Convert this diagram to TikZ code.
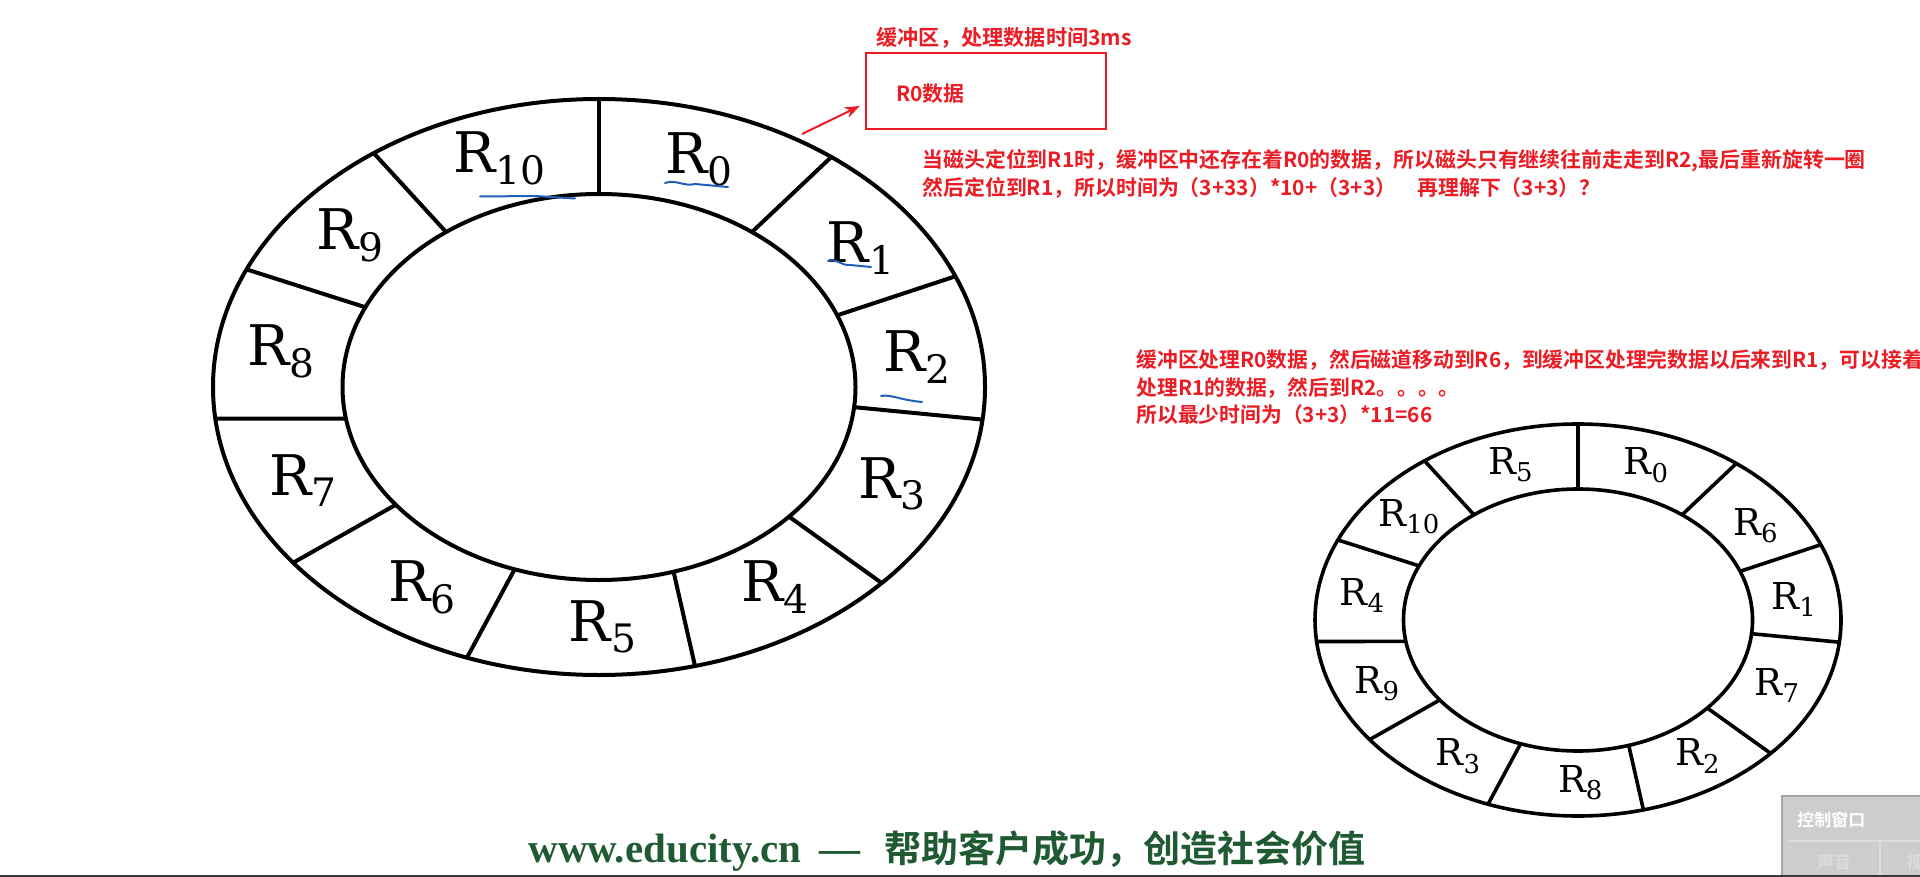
\documentclass[tikz,border=0pt]{standalone}
\usepackage{fontspec}
\setmainfont{DejaVu Serif}
\newfontfamily\cjkb{Noto Sans CJK SC Bold}
\newfontfamily\webfont{Liberation Serif}
\usetikzlibrary{arrows.meta}
\definecolor{noteRed}{HTML}{EC1C24}
\definecolor{penBlue}{HTML}{2060B8}
\definecolor{footGreen}{HTML}{1F5A33}
\definecolor{panelGray}{HTML}{CDCDCD}
\definecolor{panelEdge}{HTML}{A6A6A6}
\definecolor{panelLine}{HTML}{DCDCDC}
% outer/inner angle of each cut
\newcommand\sectorcuts{90/90,53/53.4,22.6/21.8,-6.5/-6,-42.9/-42.2,-75.6/-73.1,-110/-109.2,-142.4/-142.4,-173.7/-170.6,155.9/155.6,125.7/126.6}
\tikzset{
  bigring/.style={line width=2pt},
  smallring/.style={line width=1.8pt},
  bigR/.style={font=\fontsize{28}{28}\selectfont,inner sep=0pt},
  smallR/.style={font=\fontsize{18.5}{18.5}\selectfont,inner sep=0pt},
  note/.style={text=noteRed,font=\cjkb\fontsize{10.45}{14}\selectfont,inner sep=0pt,align=left},
  pen/.style={penBlue,line width=1pt,line cap=round},
}

\begin{document}
\begin{tikzpicture}[x=0.5pt,y=-0.5pt,>=Stealth]
\useasboundingbox (0,0) rectangle (1920,877);
\fill[white] (0,0) rectangle (1920,877);

% big track ring
\begin{scope}[shift={(599,387)},yscale=-1]
\draw[bigring] (0,0) ellipse [x radius=386,y radius=288];
\draw[bigring] (0,0) ellipse [x radius=256.5,y radius=193];
\foreach \ao/\ai in \sectorcuts
  \draw[bigring] (\ao:386 and 288) -- (\ai:256.5 and 193);
\foreach \a/\k in {71.7/0,35.3/1,7.2/2,-23.8/3,-56.6/4,-89.3/5,-123.3/6,-157/7,171.4/8,140.7/9,107.9/10}
  \node[bigR] (big\k) at (\a:321 and 240) {R\textsubscript{\k}};
\end{scope}

% small track ring, optimised order
\begin{scope}[shift={(1578,620)},yscale=-1]
\draw[smallring] (0,0) ellipse [x radius=263,y radius=196];
\draw[smallring] (0,0) ellipse [x radius=174.5,y radius=131];
\foreach \ao/\ai in \sectorcuts
  \draw[smallring] (\ao:263 and 196) -- (\ai:174.5 and 131);
\foreach \a/\k in {71.7/0,35.3/6,7.2/1,-23.8/7,-56.6/2,-89.3/8,-123.3/3,-157/9,171.4/4,140.7/10,107.9/5}
  \node[smallR] (small\k) at (\a:218 and 163) {R\textsubscript{\k}};
\end{scope}

% pen marks
\draw[pen] (480,196.5) -- (535,196) -- (575,198.5);
\draw[pen] (665,183) .. controls (676,179) and (684,187) .. (695,184) -- (728,187);
\draw[pen] (828,261) .. controls (836,258) and (842,266) .. (850,265) -- (871,267);
\draw[pen] (881,396) .. controls (890,394) and (900,400) .. (922,402);

% buffer
\node[note,anchor=west,font=\cjkb\fontsize{10.6}{14}\selectfont] (bufTitle) at (876,37.5) {缓冲区，处理数据时间3ms};
\node[draw=noteRed,line width=1.25pt,minimum width=120pt,minimum height=38pt] (bufBox) at (986,91) {};
\node[note,anchor=west] (bufData) at (896,94) {R0数据};
\coordinate (arrowTail) at (802,134);
\draw[->,noteRed,line width=1pt] (arrowTail) -- ([shift={(-2.5pt,-7.5pt)}]bufBox.west);

% notes
\node[note,anchor=north west] (whyNote) at (922,149.5)
 {当磁头定位到R1时，缓冲区中还存在着R0的数据，所以磁头只有继续往前走走到R2,最后重新旋转一圈\\
  然后定位到R1，所以时间为（3+33）*10+（3+3）\hspace{1em}再理解下（3+3）？};
\node[note,anchor=north west,font=\cjkb\fontsize{10.4}{13.75}\selectfont] (minNote) at (1136,349.5)
 {缓冲区处理R0数据，然后磁道移动到R6，到缓冲区处理完数据以后来到R1，可以接着\\
  处理R1的数据，然后到R2。。。。\\
  所以最少时间为（3+3）*11=66};

% footer
\node[anchor=west,inner sep=0pt,text=footGreen] (footer) at (528,851)
 {{\webfont\bfseries\fontsize{20.5}{20}\selectfont www.educity.cn\hspace{9pt}—\hspace{12pt}}{\cjkb\fontsize{18.5}{20}\selectfont 帮助客户成功，创造社会价值}};
\fill[black!78] (0,874.5) rectangle (1920,877);

% control window
\fill[panelGray] (1782,796) rectangle (1920,874.5);
\draw[panelEdge,line width=1pt] (1782,874.5) |- (1920,796);
\draw[panelLine,line width=1pt] (1788,841) -- (1920,841);
\draw[panelLine,line width=1pt] (1880,841) -- (1880,874.5);
\node[anchor=west,inner sep=0pt,text=white,font=\cjkb\fontsize{8.5}{10}\selectfont] (panelTitle) at (1797,820) {控制窗口};
\node[inner sep=0pt,text=panelLine,font=\cjkb\fontsize{8.5}{10}\selectfont] (panelSound) at (1834,862) {声音};
\node[anchor=west,inner sep=0pt,text=panelLine,font=\cjkb\fontsize{8.5}{10}\selectfont] (panelView) at (1906,862) {视};
\end{tikzpicture}
\end{document}
